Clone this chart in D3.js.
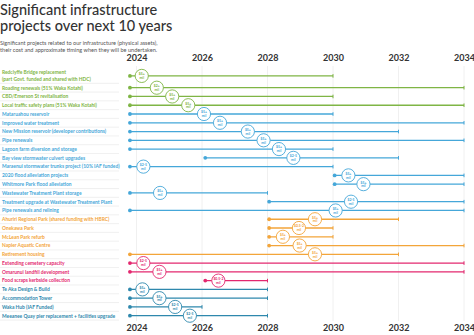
<!DOCTYPE html>
<html>
<head>
<meta charset="utf-8">
<script src="https://cdn.jsdelivr.net/npm/d3@7"></script>
<style>
  html, body { margin: 0; padding: 0; background: #fff; }
  svg { display: block; font-family: Lato, "Open Sans", sans-serif; }
</style>
</head>
<body>
<div id="chart"></div>
<script>
// project rows, top to bottom
const projects = [
  "Redclyffe Bridge replacement|(part Govt. funded and shared with HDC)",
  "Roading renewals (51% Waka Kotahi)",
  "CBD/Emerson St revitalisation",
  "Local traffic safety plans (51% Waka Kotahi)",
  "Mataruahou reservoir",
  "Improved water treatment",
  "New Mission reservoir (developer contributions)",
  "Pipe renewals",
  "Lagoon farm diversion and storage",
  "Bay view stormwater culvert upgrades",
  "Maraenui stormwater trunks project (10% IAF funded)",
  "2020 flood alleviation projects",
  "Whitmore Park flood alleviation",
  "Wastewater Treatment Plant storage",
  "Treatment upgrade at Wastewater Treatment Plant",
  "Pipe renewals and relining",
  "Ahuriri Regional Park (shared funding with HBRC)",
  "Onekawa Park",
  "McLean Park refurb",
  "Napier Aquatic Centre",
  "Retirement housing",
  "Extending cemetery capacity",
  "Omarunui landfill development",
  "Food scraps kerbside collection",
  "Te Aka Design & Build",
  "Accommodation Tower",
  "Waka Hub (IAF Funded)",
  "Meeanee Quay pier replacement + facilities upgrade"
];
const groups = [
  "transport", "transport", "transport", "transport",
  "water", "water", "water", "water", "water", "water", "water", "water",
  "water", "water", "water", "water",
  "community", "community", "community", "community", "community",
  "waste", "waste", "waste",
  "other", "other", "other", "other"
];
const startYears = [
  2023.8, 2023.8, 2023.8, 2023.8, 2023.8, 2023.8, 2023.8, 2023.8, 2023.8, 2026.1,
  2023.8, 2030.05, 2030.05, 2023.8, 2028.05, 2023.8, 2028.05, 2028.05, 2028.05, 2028.05,
  2023.8, 2023.8, 2023.8, 2026.1, 2023.8, 2023.8, 2023.8, 2023.8
];
const endYears = [
  2030, 2034, 2030, 2034, 2030, 2034, 2032, 2034, 2030, 2032,
  2030, 2034, 2034, 2028, 2034, 2034, 2032, 2030, 2030, 2034,
  2032, 2034, 2034, 2028, 2028, 2028, 2026, 2028
];
const costYears = [
  2024.16, 2024.62, 2025.09, 2025.58, 2026.06, 2026.55, 2027.4, 2027.88, 2028.35, 2028.79,
  2024.21, 2030.47, 2030.93, 2024.72, 2030.55, 2030.08, 2029.45, 2028.96, 2028.47, 2028.98,
  2029.45, 2024.21, 2024.7, 2026.5, 2024.18, 2024.7, 2025.18, 2025.63
];
const costLabels = [
  "$5+", "$2+", "$5+", "$5+", "$5+", "$5+", "$5+", "$5+", "$5+", "$2-5",
  "$2-5", "$5+", "$5+", "$5+", "$2-5", "$5+", "$5+", "$0.5-2", "$5+", "$5+",
  "$5+", "$2-5", "$5+", "$0.5-2", "$5+", "$5+", "$2-5", "$2-5"
];
const tickYears = [2024, 2026, 2028, 2030, 2032, 2034];

const colors = {
  transport: "#7fb545",
  water: "#45a7d9",
  community: "#f3a53a",
  waste: "#e3286f",
  other: "#2e88ad"
};

const width = 474, height = 335;
const svg = d3.select("#chart").append("svg")
  .attr("width", width)
  .attr("height", height);

// title
svg.append("text")
  .attr("x", 0).attr("y", 15)
  .attr("font-size", 14.5).attr("font-weight", 500).attr("fill", "#333")
  .text("Significant infrastructure");
svg.append("text")
  .attr("x", 0).attr("y", 31)
  .attr("font-size", 14.5).attr("font-weight", 500).attr("fill", "#333")
  .text("projects over next 10 years");
svg.append("text")
  .attr("x", 0).attr("y", 45)
  .attr("font-size", 5.6).attr("fill", "#555")
  .text("Significant projects related to our infrastructure (physical assets),");
svg.append("text")
  .attr("x", 0).attr("y", 52)
  .attr("font-size", 5.6).attr("fill", "#555")
  .text("their cost and approximate timing when they will be undertaken.");

const x = d3.scaleLinear().domain([2024, 2034]).range([136.5, 464]);
// first row holds a two-line label, so it sits a little higher
const y = d3.scaleLinear().domain([1, projects.length - 1]).range([87.7, 315.7]);
const step = y(2) - y(1);
const rowY = i => i === 0 ? y(1) - 11.8 : y(i);

// vertical grid
svg.append("g").selectAll("line")
  .data(tickYears)
  .join("line")
  .attr("x1", d => x(d)).attr("x2", d => x(d))
  .attr("y1", 66).attr("y2", 321)
  .attr("stroke", "#ececec").attr("stroke-width", 0.8);

// axes top and bottom
const axisTop = d3.axisTop(x).tickValues(tickYears).tickFormat(d3.format("d")).tickSize(0);
const axisBottom = d3.axisBottom(x).tickValues(tickYears).tickFormat(d3.format("d")).tickSize(0);
[[axisTop, 64], [axisBottom, 322]].forEach(([ax, ty]) => {
  const g = svg.append("g").attr("transform", `translate(0,${ty})`).call(ax);
  g.select(".domain").remove();
  g.selectAll("text")
    .attr("font-size", 9).attr("font-weight", 700).attr("fill", "#333")
    .attr("font-family", "Lato, sans-serif");
});

// row separators under labels
svg.append("g").selectAll("line")
  .data(d3.range(projects.length))
  .join("line")
  .attr("x1", 0).attr("x2", 119)
  .attr("y1", i => y(i + 1) - step / 2).attr("y2", i => y(i + 1) - step / 2)
  .attr("stroke", "#e6e6e6").attr("stroke-width", 0.6);

const rows = svg.append("g").selectAll("g")
  .data(d3.range(projects.length))
  .join("g")
  .attr("transform", i => `translate(0,${rowY(i)})`);

// labels
rows.append("text")
  .attr("x", 2)
  .attr("y", i => projects[i].includes("|") ? -1.6 : 1.8)
  .attr("font-size", 4.9).attr("font-weight", 700)
  .attr("fill", i => colors[groups[i]])
  .each(function(i) {
    const parts = projects[i].split("|");
    d3.select(this).selectAll("tspan")
      .data(parts)
      .join("tspan")
      .attr("x", 2)
      .attr("dy", (d, k) => k === 0 ? 0 : 6.8)
      .text(d => d);
  });

// timeline lines
rows.append("line")
  .attr("x1", i => x(startYears[i])).attr("x2", i => x(endYears[i]))
  .attr("y1", 0).attr("y2", 0)
  .attr("stroke", i => colors[groups[i]]).attr("stroke-width", 1.3);

// start dots
rows.append("circle")
  .attr("cx", i => x(startYears[i])).attr("cy", 0).attr("r", 1.9)
  .attr("fill", i => colors[groups[i]]);

// end ticks
rows.append("line")
  .attr("x1", i => x(endYears[i])).attr("x2", i => x(endYears[i]))
  .attr("y1", -1.8).attr("y2", 1.8)
  .attr("stroke", i => colors[groups[i]]).attr("stroke-width", 1);

// cost bubbles
rows.append("circle")
  .attr("cx", i => x(costYears[i])).attr("cy", 0).attr("r", 6.6)
  .attr("fill", "#fff")
  .attr("stroke", i => colors[groups[i]]).attr("stroke-width", 0.9);

rows.append("text")
  .attr("x", i => x(costYears[i])).attr("y", -0.6)
  .attr("text-anchor", "middle")
  .attr("font-size", 3.4).attr("font-weight", 700)
  .attr("fill", i => colors[groups[i]])
  .text(i => costLabels[i]);
rows.append("text")
  .attr("x", i => x(costYears[i])).attr("y", 3.2)
  .attr("text-anchor", "middle")
  .attr("font-size", 3.4).attr("font-weight", 700)
  .attr("fill", i => colors[groups[i]])
  .text("mil");
</script>
</body>
</html>
